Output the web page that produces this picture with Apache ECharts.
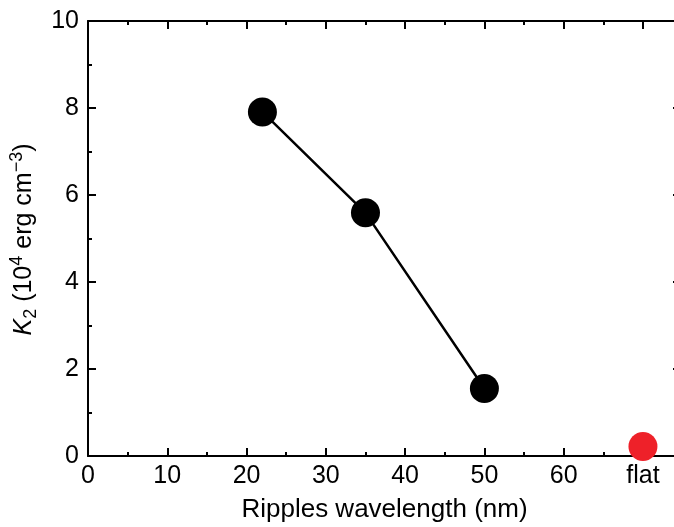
<!DOCTYPE html>
<html>
<head>
<meta charset="utf-8">
<script src="https://cdn.jsdelivr.net/npm/echarts@6/dist/echarts.min.js"></script>
<style>
html,body{margin:0;padding:0;background:#fff;}
#chart{width:674px;height:527px;}
</style>
</head>
<body>
<div id="chart"></div>
<script>
// Data
var wavelengths = [22, 35, 50];
var k2Values = [7.91, 5.59, 1.55];
var flatPosition = [70];
var flatK2 = [0.22];
var xMajorTicks = [0, 10, 20, 30, 40, 50, 60, 70];
var xMinorTicks = [5, 15, 25, 35, 45, 55, 65];
var xTickLabels = ['0', '10', '20', '30', '40', '50', '60', 'flat'];

var FONT = "'Liberation Sans', Arial, sans-serif";
var black = '#000';

var lineData = wavelengths.map(function (w, i) { return [w, k2Values[i]]; });
var flatData = flatPosition.map(function (w, i) { return [w, flatK2[i]]; });

function xAxisBase(pos, showLine) {
  return {
    type: 'value', min: 0, max: 74.8, position: pos,
    splitLine: { show: false },
    axisLine: { show: showLine, onZero: false, lineStyle: { color: black, width: 2 } }
  };
}

var xMain = xAxisBase('bottom', true);
xMain.axisTick = { show: true, inside: true, length: 8, customValues: xMajorTicks, lineStyle: { color: black, width: 2 } };
xMain.axisLabel = {
  show: true, customValues: xMajorTicks, margin: 8,
  fontSize: 25, fontFamily: FONT, color: black,
  formatter: function (v) { var i = xMajorTicks.indexOf(v); return i >= 0 ? xTickLabels[i] : ''; }
};
xMain.name = 'Ripples wavelength (nm)';
xMain.nameLocation = 'middle';
xMain.nameGap = 41;
xMain.nameTextStyle = { fontSize: 26, fontFamily: FONT, color: black };

var xMinor = xAxisBase('bottom', false);
xMinor.axisTick = { show: true, inside: true, length: 4, customValues: xMinorTicks, lineStyle: { color: black, width: 2 } };
xMinor.axisLabel = { show: false };

var xTop = xAxisBase('top', true);
xTop.axisTick = { show: true, inside: true, length: 8, customValues: xMajorTicks, lineStyle: { color: black, width: 2 } };
xTop.axisLabel = { show: false };

var xTopMinor = xAxisBase('top', false);
xTopMinor.axisTick = { show: true, inside: true, length: 4, customValues: xMinorTicks, lineStyle: { color: black, width: 2 } };
xTopMinor.axisLabel = { show: false };

function yAxisBase(pos, labels) {
  return {
    type: 'value', min: 0, max: 10, interval: 2, position: pos,
    splitLine: { show: false },
    axisLine: { show: true, onZero: false, lineStyle: { color: black, width: 2 } },
    axisTick: { show: true, inside: true, length: 8, lineStyle: { color: black, width: 2 } },
    minorTick: { show: true, splitNumber: 2, length: 4, lineStyle: { color: black, width: 2 } },
    axisLabel: { show: labels, margin: 9, fontSize: 25, fontFamily: FONT, color: black }
  };
}
var yLeft = yAxisBase('left', true);
yLeft.name = '{it|K}{sub|2}{n| (10}{sup|4}{n| erg cm}{sup|\u22123}{n|)}';
yLeft.nameLocation = 'middle';
yLeft.nameGap = 36;
yLeft.nameRotate = 90;
yLeft.nameTextStyle = {
  fontSize: 25, fontFamily: FONT, color: black,
  padding: [0, 2, 0, 0],
  rich: {
    it: { fontSize: 25, fontFamily: FONT, fontStyle: 'italic', color: black, lineHeight: 32, verticalAlign: 'middle' },
    n: { fontSize: 25, fontFamily: FONT, color: black, lineHeight: 32, verticalAlign: 'middle' },
    sub: { fontSize: 18, fontFamily: FONT, color: black, lineHeight: 18, verticalAlign: 'bottom' },
    sup: { fontSize: 18, fontFamily: FONT, color: black, lineHeight: 18, verticalAlign: 'top' }
  }
};
var yRight = yAxisBase('right', false);

var chart = echarts.init(document.getElementById('chart'), null, { renderer: 'canvas' });
chart.setOption({
  backgroundColor: '#fff',
  animation: false,
  grid: { left: 88, right: -7, top: 21, bottom: 71, containLabel: false, outerBoundsMode: 'none' },
  xAxis: [xMain, xMinor, xTop, xTopMinor],
  yAxis: [yLeft, yRight],
  series: [
    {
      type: 'line', xAxisIndex: 0, yAxisIndex: 0,
      data: lineData,
      symbol: 'circle', symbolSize: 29,
      itemStyle: { color: black, opacity: 1 },
      lineStyle: { color: black, width: 2.5 },
      z: 3
    },
    {
      type: 'scatter', xAxisIndex: 0, yAxisIndex: 0,
      data: flatData,
      symbol: 'circle', symbolSize: 29,
      itemStyle: { color: '#ee2129', opacity: 1 },
      z: 4
    }
  ]
});
</script>
</body>
</html>
